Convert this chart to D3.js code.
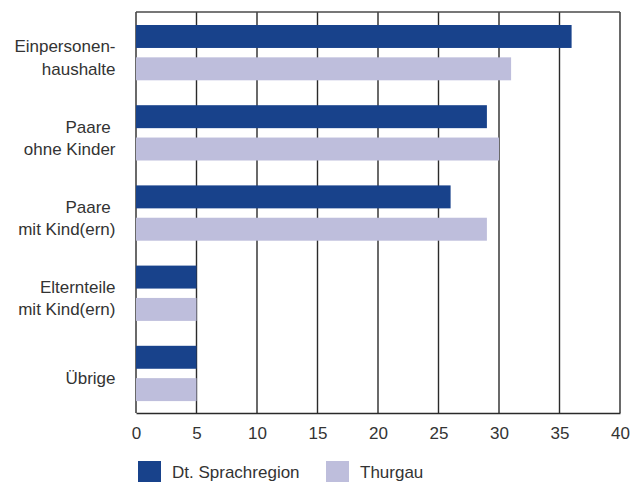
<!DOCTYPE html>
<html>
<head>
<meta charset="utf-8">
<script src="https://cdn.jsdelivr.net/npm/d3@7"></script>
<style>
  html, body { margin: 0; padding: 0; background: #fff; }
  svg text { font-family: "Liberation Sans", Arial, Helvetica, sans-serif; fill: #333; white-space: pre; }
</style>
</head>
<body>
<svg id="chart" width="630" height="482"></svg>
<script>
// Household types (label lines) and shares in percent
const categories = ["Einpersonen-|haushalte", "Paare |ohne Kinder", "Paare |mit Kind(ern)", "Elternteile|mit Kind(ern)", "Übrige"];
const series = ["Dt. Sprachregion", "Thurgau"];
const valuesSprachregion = [36, 29, 26, 5, 5];
const valuesThurgau = [31, 30, 29, 5, 5];
const xTicks = [0, 5, 10, 15, 20, 25, 30, 35, 40];
const colors = ["#18428b", "#bebedc"];

const svg = d3.select("#chart");
const plotLeft = 136, plotRight = 620, plotTop = 12, plotBottom = 413;

const x = d3.scaleLinear().domain([0, 40]).range([plotLeft, plotRight]);
const y0 = d3.scaleBand().domain(categories).range([plotTop, plotBottom]).padding(0);
const y1 = d3.scaleBand().domain(series).range([13, 68.3]).paddingInner(0.29).paddingOuter(0);
const color = d3.scaleOrdinal().domain(series).range(colors);

const rows = categories.map((c, i) => ({
  cat: c,
  vals: [
    { s: series[0], v: valuesSprachregion[i] },
    { s: series[1], v: valuesThurgau[i] }
  ]
}));

// vertical gridlines
svg.append("g")
  .selectAll("line")
  .data(xTicks)
  .join("line")
  .attr("x1", d => x(d)).attr("x2", d => x(d))
  .attr("y1", plotTop).attr("y2", plotBottom)
  .attr("stroke", "#2a2a2a")
  .attr("stroke-width", 1.4);

// top border
svg.append("line")
  .attr("x1", plotLeft).attr("x2", plotRight)
  .attr("y1", plotTop).attr("y2", plotTop)
  .attr("stroke", "#4a4a4a").attr("stroke-width", 1.4);

// bars
const groups = svg.append("g")
  .selectAll("g")
  .data(rows)
  .join("g")
  .attr("transform", d => `translate(0,${y0(d.cat)})`);

groups.selectAll("rect")
  .data(d => d.vals)
  .join("rect")
  .attr("x", x(0))
  .attr("y", d => y1(d.s))
  .attr("width", d => x(d.v) - x(0))
  .attr("height", y1.bandwidth())
  .attr("fill", d => color(d.s));

// bottom axis
const xAxis = d3.axisBottom(x).tickValues(xTicks).tickSize(0).tickPadding(14);
const gx = svg.append("g")
  .attr("transform", `translate(0,${plotBottom})`)
  .call(xAxis);
gx.select(".domain").attr("stroke", "#2a2a2a").attr("stroke-width", 1.6);
gx.selectAll("text")
  .attr("font-size", 17)
  .attr("fill", "#333")
  .style("font-family", "'Liberation Sans', Arial, sans-serif");

// left category labels
const lineGap = 22.5;
svg.append("g")
  .selectAll("text")
  .data(categories)
  .join("text")
  .attr("text-anchor", "end")
  .attr("font-size", 17)
  .each(function (c) {
    const lines = c.split("|");
    const cy = y0(c) + y0.bandwidth() / 2 + 11.5;
    d3.select(this).selectAll("tspan")
      .data(lines)
      .join("tspan")
      .attr("x", 115.5)
      .attr("y", (l, i) => cy + (i - (lines.length - 1) / 2) * lineGap)
      .text(l => l);
  });

// legend
const legendX = [138, 326];
const lg = svg.append("g")
  .selectAll("g")
  .data(series)
  .join("g")
  .attr("transform", (d, i) => `translate(${legendX[i]},461)`);
lg.append("rect")
  .attr("width", 23).attr("height", 21)
  .attr("fill", d => color(d));
lg.append("text")
  .attr("x", 34).attr("y", 16.5)
  .attr("font-size", 17)
  .text(d => d);
</script>
</body>
</html>
